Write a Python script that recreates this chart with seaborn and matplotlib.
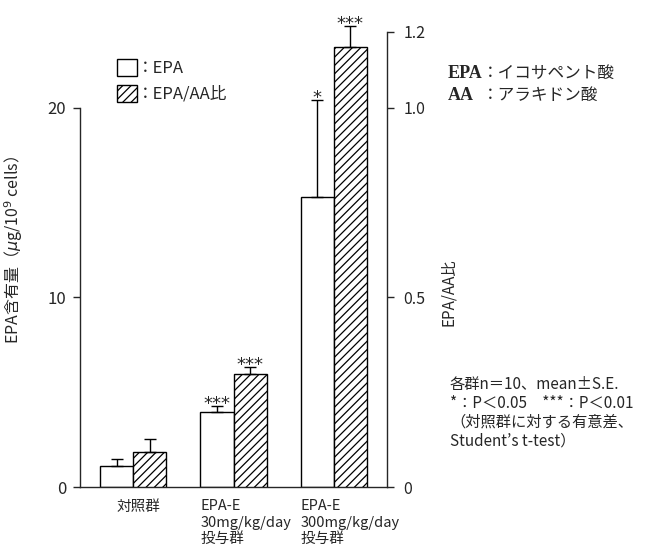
import pandas as pd
import matplotlib.pyplot as plt
import seaborn as sns
from matplotlib.patches import Patch

# データ
groups = ['対照群', 'EPA-E 30', 'EPA-E 300']
group_labels = ['対照群', 'EPA-E\n30mg/kg/day\n投与群', 'EPA-E\n300mg/kg/day\n投与群']
epa_mean = [1.1, 3.95, 15.3]
epa_se = [0.4, 0.32, 5.1]
ratio_mean = [0.092, 0.297, 1.16]
ratio_se = [0.035, 0.019, 0.055]
epa_sig = ['', '***', '*']
ratio_sig = ['', '***', '***']

sns.set_style('ticks')
plt.rcParams['font.family'] = ['Noto Sans CJK JP', 'DejaVu Sans']
plt.rcParams['hatch.linewidth'] = 0.9

df = pd.concat([
    pd.DataFrame({'group': groups, 'value': epa_mean, 'series': 'EPA'}),
    pd.DataFrame({'group': groups, 'value': ratio_mean, 'series': 'ratio'}),
], ignore_index=True)
hue_order = ['EPA', 'ratio']
pal = {'EPA': 'white', 'ratio': 'white'}

fig = plt.figure(figsize=(6.54, 5.56), dpi=100)
ax = fig.add_axes([80 / 654, 69 / 556, 307 / 654, 474 / 556])
ax2 = ax.twinx()

# 両軸とも2系列で描いて位置を揃え、不要な方を隠す
for a in (ax, ax2):
    sns.barplot(data=df, x='group', y='value', hue='series', hue_order=hue_order,
                order=groups, palette=pal, saturation=1, width=0.66, errorbar=None,
                edgecolor='black', linewidth=1, legend=False, ax=a)


def split_patches(a):
    ps = [p for p in a.patches if p.get_width() > 0]
    left, right = [], []
    for p in ps:
        c = p.get_x() + p.get_width() / 2
        (left if c < round(c) else right).append(p)
    return sorted(left, key=lambda p: p.get_x()), sorted(right, key=lambda p: p.get_x())


epa_bars, hidden = split_patches(ax)
for p in hidden:
    p.set_visible(False)
hidden, ratio_bars = split_patches(ax2)
for p in hidden:
    p.set_visible(False)
for p in ratio_bars:
    p.set_hatch('////')


def draw_err(a, bars, means, ses, sigs):
    xs = [p.get_x() + p.get_width() / 2 for p in bars]
    a.errorbar(xs, means, yerr=[[0] * len(ses), ses], fmt='none', ecolor='black',
               elinewidth=1, capsize=4.5, capthick=1, clip_on=False)
    for x, m, s, t in zip(xs, means, ses, sigs):
        if t:
            a.annotate(t, (x, m + s), xytext=(0, -5), textcoords='offset points',
                       ha='center', va='bottom', fontsize=13, family='DejaVu Sans',
                       annotation_clip=False)


draw_err(ax, epa_bars, epa_mean, epa_se, epa_sig)
draw_err(ax2, ratio_bars, ratio_mean, ratio_se, ratio_sig)

ax.set_xlim(-0.53, 2.53)
ax.set_ylim(0, 25)
ax2.set_ylim(0, 1.25)

ax.set_yticks([0, 10, 20])
ax2.set_yticks([0, 0.5, 1.0, 1.2], ['0', '0.5', '1.0', '1.2'])
ax.spines['left'].set_bounds(0, 20)
ax2.spines['right'].set_bounds(0, 1.2)
for a in (ax, ax2):
    a.spines['top'].set_visible(False)
    for s in a.spines.values():
        s.set_linewidth(1)
ax.spines['right'].set_visible(False)
ax2.spines['left'].set_visible(False)
ax2.spines['bottom'].set_visible(False)

ax.tick_params(axis='y', direction='out', length=5, width=1, pad=5, labelsize=12)
ax2.tick_params(axis='y', direction='out', length=5, width=1, pad=7, labelsize=11.5)
ax.tick_params(axis='x', length=0, labelbottom=False)
ax2.tick_params(axis='x', length=0, labelbottom=False)
ax.set_xlabel('')
ax2.set_xlabel('')

ax.set_ylabel('EPA含有量（$\\mu$g/10$^9$ cells）', fontsize=11.5)
ax.yaxis.set_label_coords(-0.18, 0.5)
ax2.set_ylabel('EPA/AA比', fontsize=11)
ax2.yaxis.set_label_coords(1.173, 0.41)

# 群ラベル
for i, lab in enumerate(group_labels):
    if i == 0:
        x, ha = i + 0.05, 'center'
    else:
        x, ha = i - 0.33, 'left'
    ax.annotate(lab, (x, 0), xytext=(0, -9), textcoords='offset points',
                ha=ha, va='top', fontsize=10.5, linespacing=1.2, annotation_clip=False)

# 凡例
handles = [Patch(facecolor='white', edgecolor='black', linewidth=1),
           Patch(facecolor='white', edgecolor='black', linewidth=1, hatch='////')]
fig.legend(handles, ['：EPA', '：EPA/AA比'], loc='upper left',
           bbox_to_anchor=(117 / 654, 1 - 59 / 556), frameon=False, fontsize=12,
           handlelength=1.2, handleheight=1.2, handletextpad=0.0, labelspacing=0.45,
           borderpad=0, borderaxespad=0)

# 略語
serif = ['Liberation Serif', 'Noto Sans CJK JP']
fig.text(448 / 654, 1 - 73 / 556, 'EPA', family=serif, fontweight='bold', fontsize=13, va='center')
fig.text(482 / 654, 1 - 73 / 556, '：イコサペント酸', fontsize=12, va='center')
fig.text(448 / 654, 1 - 95 / 556, 'AA', family=serif, fontweight='bold', fontsize=13, va='center')
fig.text(482 / 654, 1 - 95 / 556, '：アラキドン酸', fontsize=12, va='center')

# 注記
note = ('各群n＝10、mean±S.E.\n'
        '*：P＜0.05　***：P＜0.01\n'
        '（対照群に対する有意差、\n'
        'Student’s t-test）')
fig.text(450 / 654, 1 - 376 / 556, note, fontsize=11, va='top', ha='left', linespacing=1.15)

fig.savefig('out.png', dpi=100)
